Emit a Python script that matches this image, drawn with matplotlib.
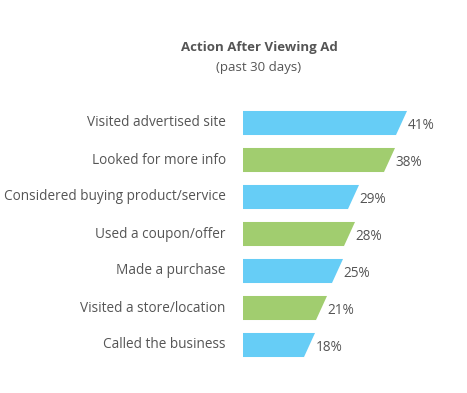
import matplotlib
matplotlib.use("Agg")
import matplotlib.pyplot as plt
from matplotlib.patches import Polygon

# data
categories = ["Visited advertised site", "Looked for more info",
              "Considered buying product/service", "Used a coupon/offer",
              "Made a purchase", "Visited a store/location", "Called the business"]
values = [41, 38, 29, 28, 25, 21, 18]
colors = ["#66cdf6", "#a1cd6f"]

plt.rcParams['font.family'] = ['Open Sans', 'DejaVu Sans']
text_col = "#555555"

fig = plt.figure(figsize=(4.67, 3.93), dpi=100)
ax = fig.add_axes([0, 0, 1, 1])
# 1 unit of x = 4 px, bars start at px 243; 1 unit of y = 37 px
ax.set_xlim(-243 / 4, (467 - 243) / 4)
ax.set_ylim((393 - 123) / 37, -123 / 37)
ax.axis("off")

h = 0.65
slant = 2.75
for i, (cat, v) in enumerate(zip(categories, values)):
    pts = [(0, i - h / 2), (v, i - h / 2), (v - slant, i + h / 2), (0, i + h / 2)]
    ax.add_patch(Polygon(pts, closed=True, facecolor=colors[i % 2], edgecolor="none"))
    ax.text(v + 0.2, i + 0.08, f"{v}%", ha="left", va="center", fontsize=9.8, color=text_col)
    ax.text(-4.3, i, cat, ha="right", va="center", fontsize=9.85, color=text_col)

fig.text(259 / 467, 1 - 47 / 393, "Action After Viewing Ad", ha="center", va="center",
         fontsize=9.5, fontweight="bold", color=text_col)
fig.text(259 / 467, 1 - 68 / 393, "(past 30 days)", ha="center", va="center",
         fontsize=9.5, color=text_col)

fig.savefig("out.png", dpi=100)
